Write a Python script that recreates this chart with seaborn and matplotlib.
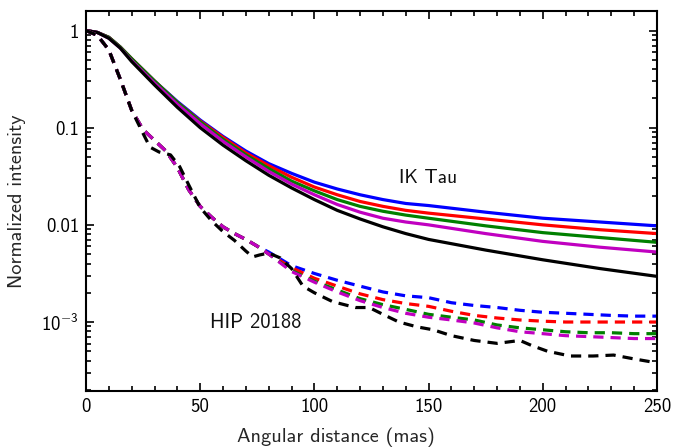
import numpy as np
import pandas as pd
import matplotlib
matplotlib.use("Agg")
import matplotlib.pyplot as plt
import matplotlib.ticker as mticker
import seaborn as sns

# ---------------- data ----------------
# IK Tau (solid lines)
x_solid = [0, 5, 10, 15, 20, 30, 40, 50, 60, 70, 80, 90, 100, 110, 120, 130, 140, 150, 175, 200, 225, 250]
ik_blue = [1.0, 0.955, 0.851, 0.676, 0.513, 0.302, 0.186, 0.120, 0.0813, 0.0575, 0.0427, 0.0339, 0.0275,
           0.0234, 0.0204, 0.0182, 0.0166, 0.0158, 0.0135, 0.0117, 0.0107, 0.00977]
ik_red = [1.0, 0.955, 0.851, 0.676, 0.513, 0.302, 0.182, 0.117, 0.0794, 0.0550, 0.0407, 0.0309, 0.0245,
          0.0204, 0.0174, 0.0155, 0.0141, 0.0132, 0.0115, 0.0100, 0.00891, 0.00813]
ik_green = [1.0, 0.955, 0.851, 0.676, 0.513, 0.302, 0.182, 0.115, 0.0759, 0.0525, 0.0380, 0.0282, 0.0224,
            0.0182, 0.0155, 0.0138, 0.0126, 0.0117, 0.00977, 0.00832, 0.00741, 0.00661]
ik_magenta = [1.0, 0.955, 0.832, 0.660, 0.490, 0.288, 0.174, 0.110, 0.0724, 0.0501, 0.0355, 0.0263, 0.0204,
              0.0162, 0.0135, 0.0117, 0.0107, 0.0100, 0.00813, 0.00676, 0.00589, 0.00525]
ik_black = [1.0, 0.955, 0.832, 0.660, 0.479, 0.275, 0.162, 0.100, 0.0661, 0.0457, 0.0324, 0.0240, 0.0182,
            0.0141, 0.0115, 0.00955, 0.00813, 0.00708, 0.00550, 0.00437, 0.00355, 0.00295]

# HIP 20188 (dashed lines)
x_dash = [0, 5, 10, 15, 20, 25, 30, 35, 40, 45, 50, 55, 60, 65, 70, 75, 80, 90, 100, 110, 120, 130,
          140, 150, 160, 170, 180, 190, 200, 210, 220, 230, 240, 250]
hip_blue = [1.0, 0.891, 0.631, 0.316, 0.151, 0.0955, 0.0741, 0.0575, 0.0389, 0.0229, 0.0155, 0.0120,
            0.00955, 0.00813, 0.00708, 0.00603, 0.00525, 0.00380, 0.00316, 0.00269, 0.00234, 0.00204,
            0.00186, 0.00178, 0.00158, 0.00148, 0.00141, 0.00132, 0.00126, 0.00123, 0.00120, 0.00117,
            0.00115, 0.00115]
hip_red = [1.0, 0.891, 0.631, 0.316, 0.151, 0.0955, 0.0741, 0.0575, 0.0389, 0.0229, 0.0155, 0.0120,
           0.00955, 0.00813, 0.00708, 0.00603, 0.00501, 0.00363, 0.00282, 0.00234, 0.00195, 0.00170,
           0.00155, 0.00145, 0.00129, 0.00117, 0.00110, 0.00105, 0.00102, 0.00100, 0.00100, 0.00100,
           0.00100, 0.00100]
hip_green = [1.0, 0.891, 0.631, 0.316, 0.151, 0.0955, 0.0741, 0.0575, 0.0389, 0.0229, 0.0155, 0.0120,
             0.00955, 0.00813, 0.00708, 0.00603, 0.00501, 0.00339, 0.00263, 0.00214, 0.00174, 0.00151,
             0.00135, 0.00120, 0.00112, 0.00105, 0.000933, 0.000871, 0.000832, 0.000794, 0.000776,
             0.000776, 0.000759, 0.000759]
hip_magenta = [1.0, 0.891, 0.631, 0.316, 0.151, 0.0955, 0.0741, 0.0575, 0.0389, 0.0229, 0.0155, 0.0120,
               0.00955, 0.00813, 0.00708, 0.00603, 0.00501, 0.00331, 0.00257, 0.00204, 0.00166, 0.00141,
               0.00123, 0.00112, 0.00105, 0.000977, 0.000871, 0.000794, 0.000759, 0.000724, 0.000708,
               0.000692, 0.000676, 0.000676]
x_dash_black = [0, 5, 10, 15, 20, 25, 28, 32, 37, 41, 45, 50, 55, 60, 65, 70, 73, 76, 80, 85, 90, 95,
                100, 108, 118, 124, 130, 137, 145, 152, 160, 170, 180, 190, 195, 202, 212, 222, 231,
                240, 250]
hip_black = [1.0, 0.891, 0.631, 0.316, 0.151, 0.0871, 0.0631, 0.0562, 0.0525, 0.0398, 0.0257, 0.0151,
             0.0110, 0.00851, 0.00692, 0.00537, 0.00468, 0.00490, 0.00513, 0.00457, 0.00355, 0.00234,
             0.00200, 0.00162, 0.00141, 0.00141, 0.00120, 0.00100, 0.000891, 0.000832, 0.000724,
             0.000646, 0.000603, 0.000646, 0.000575, 0.000501, 0.000447, 0.000447, 0.000457,
             0.000417, 0.000380]

ytick_values = [1e-3, 1e-2, 1e-1, 1]
ytick_labels = [r"$10^{-3}$", "0.01", "0.1", "1"]

colors = {"blue": "#0000ff", "red": "#ff0000", "green": "#008000", "magenta": "#c000c0", "black": "#000000"}

# ---------------- plot ----------------
sns.set_style("ticks")
plt.rcParams["font.family"] = ["cmss10", "DejaVu Sans"]
plt.rcParams["mathtext.fontset"] = "custom"
plt.rcParams["mathtext.rm"] = "cmss10"
plt.rcParams["mathtext.sf"] = "cmss10"
plt.rcParams["mathtext.it"] = "cmss10"
plt.rcParams["axes.unicode_minus"] = False

fig = plt.figure(figsize=(6.75, 4.48), dpi=100)
ax = fig.add_axes([0.1274, 0.1272, 0.8459, 0.8482])

solid = [("blue", ik_blue), ("red", ik_red), ("green", ik_green), ("magenta", ik_magenta), ("black", ik_black)]
for name, vals in solid:
    sns.lineplot(x=x_solid, y=vals, ax=ax, color=colors[name], linewidth=2.3, estimator=None, sort=False)

dashed = [("blue", x_dash, hip_blue), ("red", x_dash, hip_red), ("green", x_dash, hip_green),
          ("magenta", x_dash, hip_magenta), ("black", x_dash_black, hip_black)]
for name, xs, vals in dashed:
    sns.lineplot(x=xs, y=vals, ax=ax, color=colors[name], linewidth=2.3, estimator=None, sort=False,
                 linestyle=(0, (3.2, 2.2)))

ax.set_yscale("log")
ax.set_xlim(0, 250)
ax.set_ylim(1.95e-4, 1.587)

ax.xaxis.set_major_locator(mticker.MultipleLocator(50))
ax.xaxis.set_minor_locator(mticker.MultipleLocator(10))
ax.yaxis.set_major_locator(mticker.FixedLocator(ytick_values))
ax.yaxis.set_major_formatter(mticker.FixedFormatter(ytick_labels))
ax.yaxis.set_minor_locator(mticker.LogLocator(base=10, subs=np.arange(2, 10)))
ax.yaxis.set_minor_formatter(mticker.NullFormatter())

ax.tick_params(which="both", direction="in", top=True, right=True, width=1.2, colors="black",
               labelsize=13.5)
ax.tick_params(which="major", length=6, pad=5)
ax.tick_params(which="minor", length=3.5)
for sp in ax.spines.values():
    sp.set_linewidth(1.5)
    sp.set_color("black")

ax.set_xlabel("Angular distance (mas)", fontsize=14.6, va="center")
ax.set_ylabel("Normalized intensity", fontsize=14.6, va="center", ha="center")
ax.xaxis.set_label_coords(0.438, -0.121)
ax.yaxis.set_label_coords(-0.120, 0.50)

ax.text(137, 0.030, "IK Tau", fontsize=14, va="center", ha="left", color="#111111")
ax.text(54.5, 0.00100, "HIP 20188", fontsize=14.8, va="center", ha="left", color="#111111")

fig.savefig("out.png", dpi=100)
